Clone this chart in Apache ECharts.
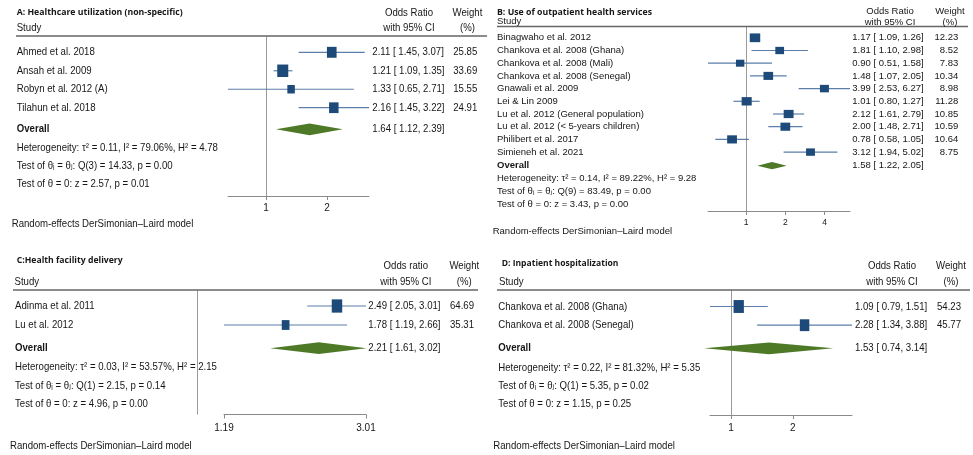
<!DOCTYPE html>
<html><head><meta charset="utf-8">
<script src="https://cdn.jsdelivr.net/npm/echarts@6/dist/echarts.min.js"></script>
<style>html,body{margin:0;padding:0;background:#fff}#c{width:973px;height:455px}</style>
</head><body><div id="c"></div>
<script>
// ---------- Panel A: Healthcare utilization (non-specific)
const studiesA = ["Ahmed et al. 2018","Ansah et al. 2009","Robyn et al. 2012 (A)","Tilahun et al. 2018"];
const oddsA   = [2.11,1.21,1.33,2.16];
const lowerA  = [1.45,1.09,0.65,1.45];
const upperA  = [3.07,1.35,2.71,3.22];
const weightA = [25.85,33.69,15.55,24.91];
const overallA = [1.64,1.12,2.39];
const statsA = ["Heterogeneity: τ² = 0.11, I² = 79.06%, H² = 4.78","Test of θᵢ = θⱼ: Q(3) = 14.33, p = 0.00","Test of θ = 0: z = 2.57, p = 0.01"];
const ticksA = [1,2];

// ---------- Panel B: Use of outpatient health services
const studiesB = ["Binagwaho et al. 2012","Chankova et al. 2008 (Ghana)","Chankova et al. 2008 (Mali)","Chankova et al. 2008 (Senegal)","Gnawali et al. 2009","Lei & Lin 2009","Lu et al. 2012 (General population)","Lu et al. 2012 (< 5-years children)","Philibert et al. 2017","Simieneh et al. 2021"];
const oddsB   = [1.17,1.81,0.90,1.48,3.99,1.01,2.12,2.00,0.78,3.12];
const lowerB  = [1.09,1.10,0.51,1.07,2.53,0.80,1.61,1.48,0.58,1.94];
const upperB  = [1.26,2.98,1.58,2.05,6.27,1.27,2.79,2.71,1.05,5.02];
const weightB = [12.23,8.52,7.83,10.34,8.98,11.28,10.85,10.59,10.64,8.75];
const overallB = [1.58,1.22,2.05];
const statsB = ["Heterogeneity: τ² = 0.14, I² = 89.22%, H² = 9.28","Test of θᵢ = θⱼ: Q(9) = 83.49, p = 0.00","Test of θ = 0: z = 3.43, p = 0.00"];
const ticksB = [1,2,4];

// ---------- Panel C: Health facility delivery
const studiesC = ["Adinma et al. 2011","Lu et al. 2012"];
const oddsC   = [2.49,1.78];
const lowerC  = [2.05,1.19];
const upperC  = [3.01,2.66];
const weightC = [64.69,35.31];
const overallC = [2.21,1.61,3.02];
const statsC = ["Heterogeneity: τ² = 0.03, I² = 53.57%, H² = 2.15","Test of θᵢ = θⱼ: Q(1) = 2.15, p = 0.14","Test of θ = 0: z = 4.96, p = 0.00"];
const ticksC = [1.19,3.01];

// ---------- Panel D: Inpatient hospitalization
const studiesD = ["Chankova et al. 2008 (Ghana)","Chankova et al. 2008 (Senegal)"];
const oddsD   = [1.09,2.28];
const lowerD  = [0.79,1.34];
const upperD  = [1.51,3.88];
const weightD = [54.23,45.77];
const overallD = [1.53,0.74,3.14];
const statsD = ["Heterogeneity: τ² = 0.22, I² = 81.32%, H² = 5.35","Test of θᵢ = θⱼ: Q(1) = 5.35, p = 0.02","Test of θ = 0: z = 1.15, p = 0.25"];
const ticksD = [1,2];

const FOOTER = "Random-effects DerSimonian–Laird model";

const panels = [
  { title:"A: Healthcare utilization (non-specific)", studies:studiesA, odds:oddsA, lo:lowerA, hi:upperA, w:weightA, overall:overallA, stats:statsA, ticks:ticksA, orHead:"Odds Ratio",
    L:{ font:11.2, sx:0.86, tFont:9.0, tW:166, axFont:10, axMargin:7, row0:52.3, step:18.47, og:0.17, s0:1.15, ss:1.0,
        ruleY:36, axisY:196, ruleX:[16,487], plotX:[228,369], titleXY:[16.7,12], studyXY:[16.7,28], nameX:16.7,
        ciX:372.3, wX:477.3, orHX:409, wHX:467.5, h1:13, h2:28.3, footXY:[11.7,224], sqX:1.9, sqY:2.15, dia:11.7 } },
  { title:"B: Use of outpatient health services", studies:studiesB, odds:oddsB, lo:lowerB, hi:upperB, w:weightB, overall:overallB, stats:statsB, ticks:ticksB, orHead:"Odds Ratio",
    L:{ font:9.5, sx:1.0, tFont:9.4, tW:155, axFont:8.5, axMargin:7.5, row0:37.8, step:12.7, og:0.07, s0:1.1, ss:1.0,
        ruleY:26.5, axisY:211, ruleX:[497,968], plotX:[708,850], titleXY:[497,12], studyXY:[497,21.7], nameX:497,
        ciX:852.3, wX:958.3, orHX:890, wHX:950, h1:11, h2:22, footXY:[492.7,231.7], sqX:3.0, sqY:2.5, dia:7.3 } },
  { title:"C:Health facility delivery", studies:studiesC, odds:oddsC, lo:lowerC, hi:upperC, w:weightC, overall:overallC, stats:statsC, ticks:ticksC, orHead:"Odds ratio",
    L:{ font:11.2, sx:0.86, tFont:9.4, tW:106, axFont:10, axMargin:8.5, row0:306, step:19, og:0.22, s0:1.22, ss:0.975,
        ruleY:290, axisY:414.5, ruleX:[13,478], plotX:[224,366], titleXY:[16.7,260], studyXY:[14.5,281.7], nameX:15,
        ciX:368.3, wX:474, orHX:405.8, wHX:464.3, h1:265.7, h2:281.7, footXY:[10,445.5], sqX:1.3, sqY:1.65, dia:11.7 } },
  { title:"D: Inpatient hospitalization", studies:studiesD, odds:oddsD, lo:lowerD, hi:upperD, w:weightD, overall:overallD, stats:statsD, ticks:ticksD, orHead:"Odds Ratio",
    L:{ font:11.2, sx:0.86, tFont:9.4, tW:116.7, axFont:10, axMargin:8, row0:306.5, step:18.7, og:0.235, s0:1.26, ss:0.975,
        ruleY:290, axisY:415, ruleX:[497,970], plotX:[710,852], titleXY:[501.7,263], studyXY:[499,281.7], nameX:498.3,
        ciX:855, wX:961, orHX:892, wHX:951, h1:265.7, h2:281.7, footXY:[493.3,445.5], sqX:1.4, sqY:1.75, dia:11.7 } }
];

const FAM = '"Liberation Sans", Arial, "DejaVu Sans", sans-serif';
const TFAM = '"Open Sans", "Noto Sans", "Liberation Sans", sans-serif';
const TXT = '#161616';
const SQ = '#1d4a78', CI = '#5b7fa8', DIA = '#4e7a28', RULE = '#666666', NULLC = '#9a9a9a', AXC = '#8a8a8a';

const mctx = document.createElement('canvas').getContext('2d');
const fitScale = (text, font, target) => { mctx.font = font; const w = mctx.measureText(text).width; return w > 0 ? target / w : 1; };

const fmt = v => v.toFixed(2);
const ciText = (o, l, h) => fmt(o) + ' [ ' + fmt(l) + ', ' + fmt(h) + ']';

const option = { animation:false, backgroundColor:'#fff', grid:[], xAxis:[], yAxis:[], series:[] };

panels.forEach((P) => {
  const L = P.L;
  const n = P.studies.length;
  const toRow = y => (y - L.row0) / L.step;
  const ruleRow = toRow(L.ruleY), axisRow = toRow(L.axisY);
  const oRow = n + L.og;
  const statRow = i => n + L.s0 + i * L.ss;
  const gPlot = option.grid.length, gText = gPlot + 1;
  const axMin = Math.min(...P.lo), axMax = Math.max(...P.hi);

  option.grid.push({ left:L.plotX[0], width:L.plotX[1]-L.plotX[0], top:L.ruleY, height:L.axisY-L.ruleY });
  option.grid.push({ left:0, width:973, top:L.ruleY, height:L.axisY-L.ruleY });

  option.xAxis.push({ type:'log', logBase:2, gridIndex:gPlot, min:axMin, max:axMax, position:'bottom',
    axisLine:{ show:true, onZero:false, lineStyle:{ color:AXC, width:1 } },
    axisTick:{ show:true, inside:false, length:4, customValues:P.ticks, lineStyle:{ color:AXC, width:1 } },
    axisLabel:{ show:true, customValues:P.ticks, fontSize:L.axFont, fontFamily:FAM, color:TXT, margin:L.axMargin,
      formatter: v => String(v) },
    splitLine:{ show:false } });
  option.xAxis.push({ type:'value', gridIndex:gText, min:0, max:973, show:false });
  option.yAxis.push({ type:'value', gridIndex:gPlot, inverse:true, min:ruleRow, max:axisRow, show:false });
  option.yAxis.push({ type:'value', gridIndex:gText, inverse:true, min:ruleRow, max:axisRow, show:false });

  // ---- text items
  const items = [];
  const bodyFont = (bold) => (bold ? 'bold ' : '') + L.font + 'px ' + FAM;
  const body = (x, y, text, align, bold) => items.push({ x, row:toRow(y), text, align, font:bodyFont(bold), sx:L.sx });
  const bodyR = (x, row, text, align, bold) => items.push({ x, row, text, align, font:bodyFont(bold), sx:L.sx });
  const tFont = 'bold ' + L.tFont + 'px ' + TFAM;
  items.push({ x:L.titleXY[0], row:toRow(L.titleXY[1]), text:P.title, align:'left', font:tFont, sx:fitScale(P.title, tFont, L.tW) });
  body(L.studyXY[0], L.studyXY[1], 'Study', 'left', false);
  body(L.orHX, L.h1, P.orHead, 'center', false);
  body(L.orHX, L.h2, 'with 95% CI', 'center', false);
  body(L.wHX, L.h1, 'Weight', 'center', false);
  body(L.wHX, L.h2, '(%)', 'center', false);
  P.studies.forEach((s, i) => {
    bodyR(L.nameX, i, s, 'left', false);
    bodyR(L.ciX, i, ciText(P.odds[i], P.lo[i], P.hi[i]), 'left', false);
    bodyR(L.wX, i, fmt(P.w[i]), 'right', false);
  });
  bodyR(L.nameX, oRow, 'Overall', 'left', true);
  bodyR(L.ciX, oRow, ciText(P.overall[0], P.overall[1], P.overall[2]), 'left', false);
  P.stats.forEach((s, i) => bodyR(L.nameX, statRow(i), s, 'left', false));
  body(L.footXY[0], L.footXY[1], FOOTER, 'left', false);

  option.series.push({
    type:'custom', xAxisIndex:gText, yAxisIndex:gText, silent:true, clip:false, z:5,
    data: items.map(d => [d.x, d.row]),
    renderItem: (params, api) => {
      const d = items[params.dataIndex];
      const p = api.coord([d.x, d.row]);
      return { type:'text', x:p[0], y:p[1], scaleX:d.sx, scaleY:1,
        style:{ text:d.text, font:d.font, fill:TXT, textFill:TXT, align:d.align, textAlign:d.align,
                verticalAlign:'middle', textVerticalAlign:'middle' } };
    }
  });

  // ---- header rule
  option.series.push({
    type:'custom', xAxisIndex:gText, yAxisIndex:gText, silent:true, clip:false, z:3,
    data:[[L.ruleX[0], ruleRow, L.ruleX[1]]],
    renderItem: (params, api) => {
      const a = api.coord([api.value(0), api.value(1)]);
      const b = api.coord([api.value(2), api.value(1)]);
      return { type:'line', shape:{ x1:a[0], y1:a[1], x2:b[0], y2:b[1] }, style:{ stroke:RULE, lineWidth:1.6 } };
    }
  });

  // ---- null line at OR = 1
  option.series.push({
    type:'custom', xAxisIndex:gPlot, yAxisIndex:gPlot, silent:true, clip:false, z:2,
    data:[[1, ruleRow, axisRow]],
    renderItem: (params, api) => {
      const a = api.coord([api.value(0), api.value(1)]);
      const b = api.coord([api.value(0), api.value(2)]);
      const x = Math.round(a[0]) + 0.5;
      return { type:'line', shape:{ x1:x, y1:a[1], x2:x, y2:b[1] }, style:{ stroke:NULLC, lineWidth:1 } };
    }
  });

  // ---- study estimates: CI line + weighted square
  option.series.push({
    type:'custom', xAxisIndex:gPlot, yAxisIndex:gPlot, silent:true, clip:false, z:4,
    data: P.studies.map((s, i) => [P.odds[i], i, P.lo[i], P.hi[i], P.w[i]]),
    renderItem: (params, api) => {
      const r = api.value(1);
      const c = api.coord([api.value(0), r]);
      const l = api.coord([api.value(2), r]);
      const h = api.coord([api.value(3), r]);
      const sw = L.sqX * Math.sqrt(api.value(4)), sh = L.sqY * Math.sqrt(api.value(4));
      return { type:'group', children:[
        { type:'line', shape:{ x1:l[0], y1:c[1], x2:h[0], y2:c[1] }, style:{ stroke:CI, lineWidth:1.2 } },
        { type:'rect', shape:{ x:c[0]-sw/2, y:c[1]-sh/2, width:sw, height:sh }, style:{ fill:SQ } }
      ]};
    }
  });

  // ---- overall diamond
  option.series.push({
    type:'custom', xAxisIndex:gPlot, yAxisIndex:gPlot, silent:true, clip:false, z:4,
    data:[[P.overall[0], oRow, P.overall[1], P.overall[2]]],
    renderItem: (params, api) => {
      const r = api.value(1);
      const c = api.coord([api.value(0), r]);
      const l = api.coord([api.value(2), r]);
      const h = api.coord([api.value(3), r]);
      const hh = L.dia / 2;
      return { type:'polygon', shape:{ points:[[l[0], c[1]], [c[0], c[1]-hh], [h[0], c[1]], [c[0], c[1]+hh]] },
               style:{ fill:DIA } };
    }
  });
});

const chart = echarts.init(document.getElementById('c'), null, { renderer:'canvas', width:973, height:455 });
chart.setOption(option);
</script>
</body></html>
